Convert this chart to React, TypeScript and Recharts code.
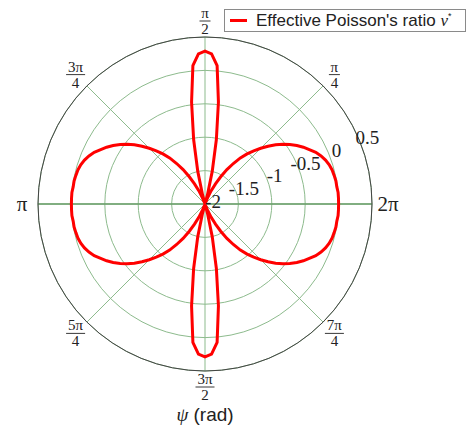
import React from 'react';
import {
  RadarChart,
  Radar,
  PolarGrid,
  PolarAngleAxis,
  PolarRadiusAxis,
  Legend
} from 'recharts';

// Effective Poisson's ratio, 2.5° per sample
const upperRight = [
  0.0, 0.0, 0.0, -0.01, -0.01, -0.02, -0.03, -0.05, -0.08, -0.12,
  -0.17, -0.24, -0.3, -0.37, -0.45, -0.53, -0.62, -0.72, -0.82, -0.92,
  -1.02, -1.13, -1.26, -1.39, -1.53, -1.66, -1.78, -1.9, -1.98, -2.0,
  -1.86, -1.5, -1.02, -0.46, 0.08, 0.25
];
const upperLeft = [
  0.29, 0.25, 0.08, -0.46, -1.02, -1.5, -1.86, -2.0, -1.98, -1.9,
  -1.78, -1.66, -1.53, -1.39, -1.26, -1.13, -1.02, -0.92, -0.82, -0.72,
  -0.62, -0.53, -0.45, -0.37, -0.3, -0.24, -0.17, -0.12, -0.08, -0.05,
  -0.03, -0.02, -0.01, -0.01, 0.0, 0.0
];
const lowerLeft = [
  0.0, 0.0, 0.0, -0.01, -0.01, -0.02, -0.03, -0.05, -0.08, -0.12,
  -0.17, -0.24, -0.3, -0.37, -0.45, -0.53, -0.62, -0.72, -0.82, -0.92,
  -1.02, -1.13, -1.26, -1.39, -1.53, -1.66, -1.78, -1.9, -1.98, -2.0,
  -1.86, -1.5, -1.02, -0.46, 0.08, 0.25
];
const lowerRight = [
  0.29, 0.25, 0.08, -0.46, -1.02, -1.5, -1.86, -2.0, -1.98, -1.9,
  -1.78, -1.66, -1.53, -1.39, -1.26, -1.13, -1.02, -0.92, -0.82, -0.72,
  -0.62, -0.53, -0.45, -0.37, -0.3, -0.24, -0.17, -0.12, -0.08, -0.05,
  -0.03, -0.02, -0.01, -0.01, 0.0, 0.0
];

const ANGLE_STEP = 2.5;
const radialTicks = [-2, -1.5, -1, -0.5, 0, 0.5];
const gridAngles = [0, 45, 90, 135, 180, 225, 270, 315];

// angle (deg) -> [numerator, denominator]; denominator empty = plain label
const angleLabels: Record<number, [string, string]> = {
  0: ['2π', ''],
  45: ['π', '4'],
  90: ['π', '2'],
  135: ['3π', '4'],
  180: ['π', ''],
  225: ['5π', '4'],
  270: ['3π', '2'],
  315: ['7π', '4']
};

const values = [...upperRight, ...upperLeft, ...lowerLeft, ...lowerRight];
const data = values.map((v, i) => ({ angle: i * ANGLE_STEP, nu: v }));

const SERIF = '"Liberation Serif", "DejaVu Serif", serif';
const SANS = '"Liberation Sans", Arial, sans-serif';

const AngleTick = (props: any) => {
  const { x, y, payload } = props;
  const lbl = angleLabels[payload.value];
  if (!lbl) return <g />;
  const [num, den] = lbl;
  if (!den) {
    return (
      <text x={x} y={y} dy={7} textAnchor="middle" fontFamily={SERIF} fontSize={21} fill="#222">
        {num}
      </text>
    );
  }
  const w = num.length > 1 ? 19 : 11;
  return (
    <g>
      <text x={x} y={y - 3} textAnchor="middle" fontFamily={SERIF} fontSize={15} fill="#222">
        {num}
      </text>
      <line x1={x - w / 2} x2={x + w / 2} y1={y} y2={y} stroke="#222" strokeWidth={0.9} />
      <text x={x} y={y + 13} textAnchor="middle" fontFamily={SERIF} fontSize={15} fill="#222">
        {den}
      </text>
    </g>
  );
};

const RadiusTick = (props: any) => {
  const { x, y, payload } = props;
  return (
    <text x={x + 8} y={y + 4} textAnchor="middle" fontFamily={SERIF} fontSize={19} fill="#222">
      {payload.value}
    </text>
  );
};

const LegendBox = () => (
  <div
    style={{
      display: 'flex',
      alignItems: 'center',
      border: '1px solid #8a8a8a',
      background: '#fff',
      height: 23,
      width: 242,
      boxSizing: 'border-box',
      fontFamily: SANS,
      fontSize: 17,
      color: '#222',
      whiteSpace: 'nowrap'
    }}
  >
    <span style={{ display: 'inline-block', width: 17, height: 3, background: '#ff0000', margin: '0 9px 0 5px' }} />
    <span>
      Effective Poisson's ratio{' '}
      <span style={{ fontFamily: SERIF, fontStyle: 'italic' }}>ν</span>
      <sup style={{ fontSize: 9 }}>*</sup>
    </span>
  </div>
);

export default function App() {
  return (
    <div style={{ position: 'absolute', left: 0, top: 0, width: 470, height: 432, background: '#fff' }}>
      <RadarChart
        width={470}
        height={432}
        data={data}
        cx={205}
        cy={204}
        outerRadius={167}
        startAngle={0}
        endAngle={360}
        margin={{ top: 0, right: 0, bottom: 0, left: 0 }}
      >
        <PolarGrid gridType="circle" polarAngles={gridAngles} stroke="#8dbb8d" strokeWidth={1} />
        <PolarGrid gridType="circle" polarAngles={[0, 180]} polarRadius={[]} stroke="#6a9e6a" strokeWidth={1.6} />
        <PolarAngleAxis
          dataKey="angle"
          type="number"
          domain={[0, 360]}
          ticks={gridAngles}
          tick={<AngleTick />}
          tickLine={false}
          tickSize={16}
          axisLineType="circle"
          axisLine={{ stroke: '#444', strokeWidth: 1 }}
        />
        <Radar
          dataKey="nu"
          name="Effective Poisson's ratio"
          stroke="#ff0000"
          strokeWidth={3}
          fill="none"
          fillOpacity={0}
          dot={false}
          isAnimationActive={false}
        />
        <PolarRadiusAxis
          angle={22.5}
          type="number"
          scale="linear"
          domain={[-2, 0.5]}
          allowDataOverflow
          allowDecimals
          tickCount={6}
          ticks={radialTicks}
          axisLine={false}
          tickLine={false}
          tick={<RadiusTick />}
        />
        <Legend
          content={<LegendBox />}
          layout="vertical"
          verticalAlign="top"
          align="right"
          wrapperStyle={{ top: 9, left: 224, width: 242 }}
        />
      </RadarChart>
      <div
        style={{
          position: 'absolute',
          left: 0,
          width: 410,
          top: 404,
          textAlign: 'center',
          fontFamily: SANS,
          fontSize: 19,
          color: '#222'
        }}
      >
        <span style={{ fontFamily: SERIF, fontStyle: 'italic' }}>ψ</span> (rad)
      </div>
    </div>
  );
}
